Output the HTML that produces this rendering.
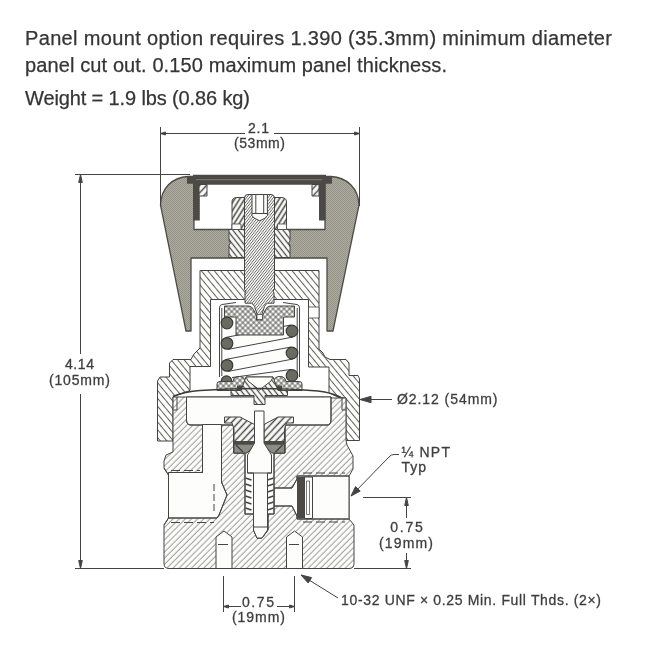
<!DOCTYPE html>
<html><head><meta charset="utf-8">
<style>
html,body{margin:0;padding:0;background:#fff;}
body{width:650px;height:650px;overflow:hidden;font-family:"Liberation Sans",sans-serif;}
svg{display:block;will-change:transform;transform:translateZ(0);}
.t{font-family:"Liberation Sans",sans-serif;font-size:20px;fill:#333;stroke:#333;stroke-width:0.25;}
.l{font-family:"Liberation Sans",sans-serif;font-size:14px;fill:#3c3c3c;stroke:#3c3c3c;stroke-width:0.3;}
.ln{stroke:#444;stroke-width:1;fill:none;}
.o{stroke:#444;stroke-width:1;}
.w{fill:#fdfdfb;stroke:#444;stroke-width:1;}
</style></head>
<body>
<svg width="650" height="650" viewBox="0 0 650 650">
<defs>
<pattern id="hBody" width="8" height="4.35" patternUnits="userSpaceOnUse" patternTransform="rotate(-45)"><rect width="8" height="4.35" fill="#fdfdfb"/><line x1="0" y1="2" x2="8" y2="2" stroke="#6a6a66" stroke-width="0.72"/></pattern>
<pattern id="hBon" width="8" height="5" patternUnits="userSpaceOnUse" patternTransform="rotate(50.4)"><rect width="8" height="5" fill="#fdfdfb"/><line x1="0" y1="2.5" x2="8" y2="2.5" stroke="#4f4f4b" stroke-width="0.9"/></pattern>
<pattern id="hNut" width="8" height="4.2" patternUnits="userSpaceOnUse" patternTransform="rotate(-58)"><rect width="8" height="4.2" fill="#fdfdfb"/><line x1="0" y1="2.1" x2="8" y2="2.1" stroke="#4e4e4a" stroke-width="1.6"/></pattern>
<pattern id="hIns" width="8" height="4.4" patternUnits="userSpaceOnUse" patternTransform="rotate(52)"><rect width="8" height="4.4" fill="#fdfdfb"/><line x1="0" y1="2.2" x2="8" y2="2.2" stroke="#4a4a46" stroke-width="1.3"/></pattern>
<pattern id="hStem" width="8" height="2.1" patternUnits="userSpaceOnUse" patternTransform="rotate(-52)"><rect width="8" height="2.1" fill="#fdfdfb"/><line x1="0" y1="1.05" x2="8" y2="1.05" stroke="#666662" stroke-width="0.78"/></pattern>
<pattern id="hX" width="3.9" height="3.9" patternUnits="userSpaceOnUse" patternTransform="rotate(45)"><rect width="3.9" height="3.9" fill="#fdfdfb"/><path d="M0,1.95H3.9M1.95,0V3.9" stroke="#3e3e3a" stroke-width="0.8"/></pattern>
<pattern id="hSeat" width="8" height="5" patternUnits="userSpaceOnUse" patternTransform="rotate(-47)"><rect width="8" height="5" fill="#fdfdfb"/><line x1="0" y1="2.5" x2="8" y2="2.5" stroke="#4a4a46" stroke-width="1.5"/></pattern>
<pattern id="dots" width="2" height="2" patternUnits="userSpaceOnUse"><rect width="2" height="2" fill="#adac9e"/><rect width="1" height="1" fill="#94938a"/><rect x="1" y="1" width="1" height="1" fill="#94938a"/></pattern>
</defs>
<rect width="650" height="650" fill="#ffffff"/>

<!-- heading text -->
<g opacity="0.99">
<text class="t" x="25" y="45" textLength="587" lengthAdjust="spacing">Panel mount option requires 1.390 (35.3mm) minimum diameter</text>
<text class="t" x="25" y="72" textLength="422" lengthAdjust="spacing">panel cut out. 0.150 maximum panel thickness.</text>
<text class="t" x="25" y="105" textLength="225" lengthAdjust="spacing">Weight = 1.9 lbs (0.86 kg)</text>
</g>
<!-- DRAWING -->
<g id="drawing" stroke-linejoin="round">
<!-- knob -->
<path fill="url(#dots)" stroke="#4c4c45" stroke-width="1.3" fill-rule="evenodd"
 d="M188,176.5 C172,177.5 161,188 160.5,205 L186,331 H191 V258 H327 V331 H333 L359,205 C358.5,188 347,177.5 331,176.5 Z
    M194,184 H325 V229.5 H194 Z"/>
<!-- dark liner -->
<path fill="#4b4a46" d="M193,174.8 H326 V176.5 H332 V183.8 H325.5 V220.4 H319 V184 H199.8 V220.4 H193 V183.8 H187 V176.5 H193 Z"/>
<path fill="none" stroke="#8a897e" stroke-width="0.8" d="M196,179.7H322"/>
<!-- little hatched retainers -->
<rect x="199" y="184.5" width="8" height="11.5" fill="url(#hSeat)" stroke="#444" stroke-width="1"/>
<rect x="312" y="184.5" width="7" height="11.5" fill="url(#hSeat)" stroke="#444" stroke-width="1"/>
<!-- insert in web -->
<path fill="url(#hIns)" stroke="#444" stroke-width="1" d="M229,229.5 H290 V241 L288.5,243 L290,245 V257.5 H229 V245 L230.5,243 L229,241 Z"/>
<!-- nut -->
<path fill="url(#hNut)" stroke="#444" stroke-width="1" d="M232,229.5 V202 Q232,197.5 237,197.5 H281 Q286.5,197.5 286.5,202 V229.5 Z"/>
<path fill="#fdfdfb" stroke="#444" stroke-width="0.8" d="M232,224 h9 v5.5 h-9z M286.5,224 h-9 v5.5 h9z"/>

<!-- bonnet -->
<path fill="url(#hBon)" stroke="#444" stroke-width="1" d="
 M200,270.5 H319 V349 L323,353 L325,357 L330,359.5 H346 L349,363 V375.5 H358 L359.5,379 V440.5 H346 V398
 L339,397.5 L329,393 V367 H308.5 V299.5 H210.5 V366.5 H190 V390.5 L173,396.5 V441 H157.5 V381 L160,377 H169.5 V363 L173,359.5 H191 L194,354 L200,348 Z"/>
<!-- slot in bonnet right wall -->
<rect x="308.5" y="307" width="10.5" height="11" fill="#fdfdfb" stroke="#444" stroke-width="0.8"/>

<!-- body -->
<path fill="url(#hBody)" stroke="#444" stroke-width="1" d="
 M173,397 V452 L166,455 L164,461 V468 L168.5,475 V518 L164,525 V563.5 Q164,568.5 169,568.5 H349 Q354,568.5 354,563.5 V525 L349,519 V476 L353,469 V456 L347,445 L346,440.5 V398 H331 V397 H186.5 Z"/>
<!-- body upper chamber -->
<path class="w" d="M186.5,397 V420 Q186.5,425 191,425 H327 Q331,425 331,420 V397 Z" stroke="none"/>
<path class="ln" d="M186.5,397 V420 Q186.5,425 191,425 H327 Q331,425 331,420 V397"/>
<!-- o-ring notch lines -->
<path class="ln" stroke-width="0.8" d="M173,410 H177 V397 M346,410 H342 V398"/>
<!-- vertical passage + left port -->
<path class="w" d="M202.5,424.5 V472.5 H168.5 V518 H217 L219,515 L227,495 L221.5,482 V424.5 Z" stroke="none"/>
<path class="ln" d="M202.5,425 V472.5 H168.5 M168.5,518 H217 L219,515 L227,495 L221.5,482 V425"/>
<path class="ln" stroke="#777" stroke-width="0.6" stroke-dasharray="7,3" d="M214,484 V512"/>
<path class="ln" stroke-width="0.7" d="M164,468 L168.5,475 V518 L164,525"/>
<path class="ln" stroke="#999" stroke-width="0.5" stroke-dasharray="9,4" d="M171,470.5 H200 M171,522.5 H214"/>
<!-- right port -->
<path class="w" d="M349,476 H297 V479 L292,488 H274 V506 H292 L297,516 V519 H349 Z" stroke="none"/>
<path class="ln" d="M349,476 H297 V479 L292,488 H274 M274,506 H292 L297,516 V519 H349"/>
<path class="ln" stroke="#888" stroke-width="0.6" stroke-dasharray="9,4" d="M303,473 H345 M303,522 H345"/>
<!-- filter -->
<rect x="297" y="477" width="7.5" height="41.5" fill="#4b4a46"/>
<rect x="304.5" y="477" width="8" height="41.5" fill="#fdfdfb" stroke="#444" stroke-width="1"/>
<rect x="306.5" y="481" width="3" height="33.5" fill="#fdfdfb" stroke="#555" stroke-width="0.8"/>
<!-- mounting holes -->
<path class="w" d="M216,568.5 V537 L224,531 L232,537 V568.5 Z"/>
<path class="w" d="M286.5,568.5 V537 L294.5,531 L302.5,537 V568.5 Z"/>
<path class="ln" stroke="#777" stroke-width="0.6" d="M218,544.5 H228 M289,544.5 H299"/>
<!-- central bore -->
<path class="w" d="M233.5,425 V453 H245 V514 H253.5 V530 L257,538 H262 L268,530 V514 H274 V453 H285 V425 Z" stroke="none"/>
<path class="ln" d="M233.5,425 V453 H245 V514 H253.5 V530 L257,538 H262 L268,530 V514 H274 V453 H285 V425"/>

<!-- stem -->
<path fill="url(#hStem)" stroke="#444" stroke-width="1" d="M244.5,229 V198 Q244.5,194.5 248,194.5 H271 Q274.5,194.5 274.5,198 V289.5 L273,291 L274,293 V303.2 H267.5 Q265.5,304 264.5,306.5 L262,314 V318.5 H257 V314 L254.5,306.5 Q253.5,304 251.5,303.2 H245 V293 L246,291 L244.5,289.5 Z"/>
<path class="w" d="M252,194.5 V215.5 L254,218 L259.7,220.8 L265.4,218 L267.4,215.5 V194.5 Z"/>
<path class="ln" stroke-width="0.8" d="M252,213.5H267.4"/>
<path class="ln" stroke="#777" stroke-width="0.7" d="M255.8,195V213.5M263.7,195V213.5"/>
<!-- spring cup (thin) -->
<path class="ln" stroke-width="1.2" d="M236,302.5 L222,304.5 Q219.5,305 219.5,308 V377 M283,302.5 L297,304.5 Q299.5,305 299.5,308 V377"/>
<path class="ln" stroke-width="0.8" d="M221.8,308 V376 M297.2,308 V376"/>
<!-- spring bands -->
<g fill="#fdfdfb" stroke="#444" stroke-width="1">
<path d="M225.9,337.4 L290.9,325 L293.1,337 L228.1,349.4 Z"/>
<path d="M225.9,359.4 L290.9,347 L293.1,359 L228.1,371.4 Z"/>
<path d="M232,377.5 L290.9,369.5 L293.1,381.5 L262,386 Z"/>
</g>
<!-- upper spring button (cross hatched) -->
<path fill="url(#hX)" stroke="#444" stroke-width="1" d="M224.5,306 H249 Q252,306.5 253.5,309.5 L256.5,316 V320 H262.5 V316 L265.5,309.5 Q267,306.5 270,306 H294.5 V317 H283.5 V335 H236 V317 H224.5 Z"/>
<rect x="257" y="314.5" width="5.5" height="5" fill="#fdfdfb" stroke="#444" stroke-width="0.8"/>
<!-- coils -->
<g fill="#6a6962" stroke="#3a3a36" stroke-width="1.2">
<circle cx="227" cy="323" r="5.8"/><circle cx="227" cy="343.4" r="5.8"/><circle cx="227" cy="365.4" r="5.8"/><circle cx="226.5" cy="381" r="5.2"/>
<circle cx="292" cy="331" r="5.8"/><circle cx="292" cy="353" r="5.8"/><circle cx="292" cy="375.5" r="5.8"/>
</g>
<!-- lower spring seat (cross hatched) -->
<path fill="url(#hX)" stroke="#444" stroke-width="1" d="M217,384 Q217,381.5 220,381.5 H233 L234,378.5 Q236,376 240,376.5 Q245,377 245.5,382 V390.5 H217 Z"/>
<path fill="url(#hX)" stroke="#444" stroke-width="1" d="M302,384 Q302,381.5 299,381.5 H286 L285,378.5 Q283,376 279,376.5 Q274,377 273.5,382 V390.5 H302 Z"/>
<path fill="#4b4a46" d="M237,385.5 H246.5 L244,391 H237 Z M282,385.5 H272.5 L275,391 H282 Z"/>
<!-- diaphragm plate -->
<path fill="url(#hIns)" stroke="#444" stroke-width="1" d="M246,377 H273 L278,390.5 H287.5 V395.5 H265 V404.5 H254 V395.5 H231 V390.5 H241 Z"/>
<path class="w" d="M246,377 H273 L271,381 L259.5,390 L248,381 Z"/>
<!-- diaphragm -->
<path fill="none" stroke="#3c3c38" stroke-width="1.6" d="M173,396.5 Q185,391.5 200,390.5 Q230,388.5 259.5,388.5 Q290,388.5 318,391 Q332,392.5 341,397.5"/>
<!-- valve seat retainer -->
<path fill="url(#hSeat)" stroke="#444" stroke-width="1" d="M224.5,417 H240 L254.5,424.5 V441.5 H234 V429 L232,423 H224.5 Z"/>
<path fill="url(#hSeat)" stroke="#444" stroke-width="1" d="M293.5,417 H278 L264,424.5 V441.5 H284.5 V429 L286.5,423 H293.5 Z"/>
<!-- seat (dark) -->
<path fill="#8d8c84" stroke="#444" stroke-width="1" d="M234,441.5 H254.5 V445 L247,453 H234 Z M284.5,441.5 H264 V445 L271.5,453 H284.5 Z"/>
<path fill="#4b4a46" d="M234,441.2 H254.5 V444.8 H234 Z M284.5,441.2 H264 V444.8 H284.5 Z"/>
<path fill="none" stroke="#3f3f3b" stroke-width="1.4" d="M236,445 L243,452 M282.5,445 L275.5,452"/>
<!-- poppet -->
<path class="w" d="M254.5,411 H264 V443 L271.5,455 V473 H267.5 V530 L262,538 H257 L253.5,530 V473 H247.5 V455 L254.5,443 Z"/>
<path class="ln" stroke-width="0.8" d="M247.5,473 H271.5 M254,527 H267"/>
<!-- poppet spring -->
<g stroke="#444" stroke-width="1.5" fill="none">
<path d="M245.5,478 l6,2 M245.5,484 l6,2 M245.5,490 l6,2 M245.5,496 l6,2 M245.5,502 l6,2 M245.5,508 l6,2"/>
<path d="M273.5,478 l-6,2 M273.5,484 l-6,2 M273.5,490 l-6,2 M273.5,496 l-6,2 M273.5,502 l-6,2 M273.5,508 l-6,2"/>
</g>
</g>
<!-- DIMENSIONS -->
<g id="dims" class="ln" stroke-width="1">
<!-- 2.1 -->
<path d="M160.5,127V206M359.5,127V206"/>
<path d="M160.5,133.5H245M274,133.5H359.5"/>
<path d="M160.5,133.5l5,-1.5v3zM359.5,133.5l-5,-1.5v3z" fill="#444"/>
<!-- 4.14 -->
<path d="M75,174.5H190M75,568.5H164"/>
<path d="M80.5,174.5V354M80.5,394V568.5"/>
<path d="M80.5,174.5l-1.8,8h3.6zM80.5,568.5l-1.8,-8h3.6z" fill="#444"/>
<!-- dia 2.12 -->
<path d="M360,399.5H392"/>
<path d="M360,399.5l11,-3.2v6.4z" fill="#444"/>
<!-- NPT leader -->
<path d="M351,496L389,457Q391,454.5 394,454.5H399"/>
<path d="M351,496l4.6,-9.4l4.6,4.5z" fill="#444"/>
<!-- 0.75 right -->
<path d="M363,497.5H411M354,568.5H411"/>
<path d="M406.5,497.5V518M406.5,553V568.5"/>
<path d="M406.5,497.5l-1.8,8h3.6zM406.5,568.5l-1.8,-8h3.6z" fill="#444"/>
<!-- 0.75 bottom -->
<path d="M223.5,576V612M294.5,576V612"/>
<path d="M223.5,606.5H241M277,606.5H294.5"/>
<path d="M223.5,606.5l5,-1.5v3zM294.5,606.5l-5,-1.5v3z" fill="#444"/>
<!-- 10-32 leader -->
<path d="M301,575L338,598"/>
<path d="M301,575l10.6,2.6l-3.4,5.4z" fill="#444"/>
</g>
<g id="labels" opacity="0.99">
<text class="l" x="258.5" y="133" text-anchor="middle" textLength="21" lengthAdjust="spacing">2.1</text>
<text class="l" x="259.5" y="148" text-anchor="middle" textLength="51" lengthAdjust="spacing">(53mm)</text>
<text class="l" x="79.5" y="369" text-anchor="middle" textLength="29" lengthAdjust="spacing">4.14</text>
<text class="l" x="79.5" y="385" text-anchor="middle" textLength="61" lengthAdjust="spacing">(105mm)</text>
<text class="l" x="397" y="403.5" textLength="100.5" lengthAdjust="spacing">Ø2.12 (54mm)</text>
<text class="l" x="401.5" y="456.5" textLength="48.5" lengthAdjust="spacing">¼ NPT</text>
<text class="l" x="401.5" y="471.5" textLength="24.5" lengthAdjust="spacing">Typ</text>
<text class="l" x="406.5" y="531.5" text-anchor="middle" textLength="32.5" lengthAdjust="spacing">0.75</text>
<text class="l" x="406" y="548" text-anchor="middle" textLength="54" lengthAdjust="spacing">(19mm)</text>
<text class="l" x="258" y="607" text-anchor="middle" textLength="32" lengthAdjust="spacing">0.75</text>
<text class="l" x="258.5" y="622" text-anchor="middle" textLength="53" lengthAdjust="spacing">(19mm)</text>
<text class="l" x="341" y="605" textLength="260" lengthAdjust="spacing">10-32 UNF × 0.25 Min. Full Thds. (2×)</text>
</g>
</svg>
</body></html>
